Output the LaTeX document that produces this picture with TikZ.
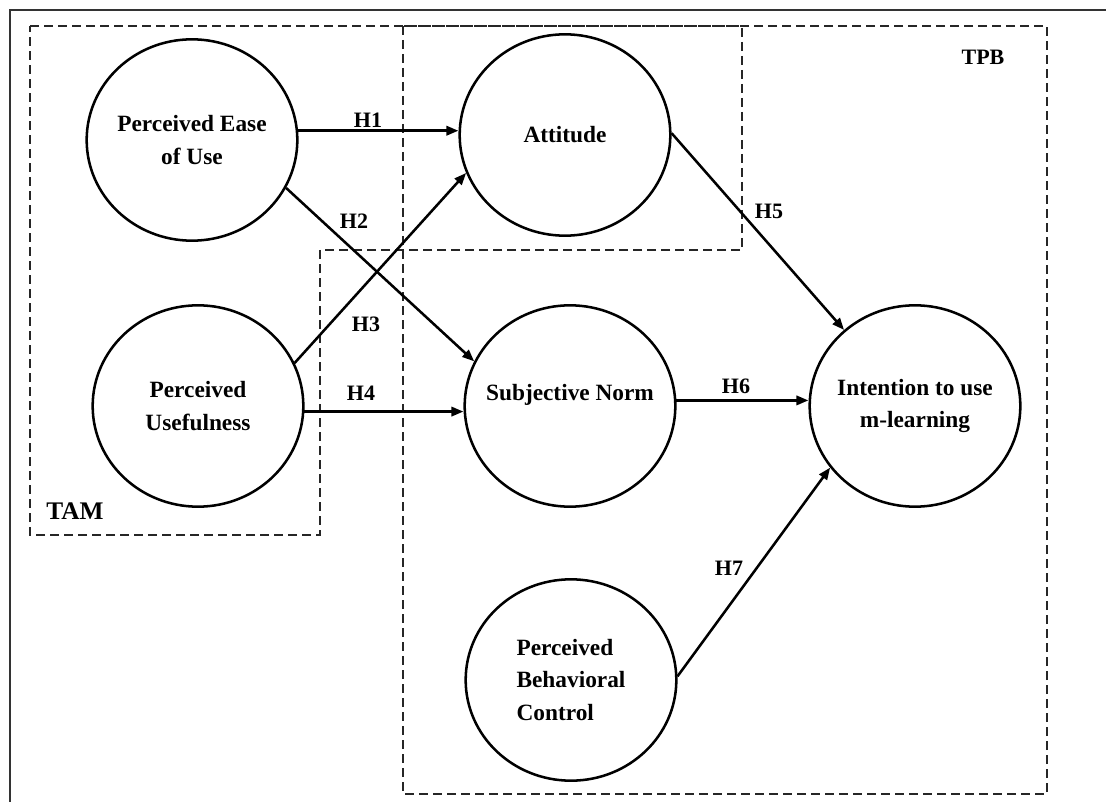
\documentclass[tikz,border=0pt]{standalone}
\usepackage{fontspec}
\setmainfont{Liberation Serif}
\usetikzlibrary{arrows.meta,shapes.geometric}

\begin{document}
\begin{tikzpicture}[x=0.75pt, y=-0.75pt,
      construct/.style={ellipse, draw, line width=1.9pt, minimum width=158pt, minimum height=151pt, inner xsep=-8pt, inner ysep=0pt, align=center, font=\bfseries\fontsize{17.5}{24.5}\selectfont},
      hyp/.style={-{Triangle[length=9pt,width=7pt]}, line width=1.9pt},
      hlabel/.style={inner sep=0pt, font=\bfseries\fontsize{16.5}{20}\selectfont},
      modelbox/.style={dash pattern=on 7pt off 3.5pt, line width=1.1pt, black!85}
    ]
      \useasboundingbox (0,0) rectangle (1106,802);
      % frame
      \draw[line width=1.3pt, black!80] (10,802) -- (10,10) -- (1106,10);

      % model boundaries
      \draw[modelbox] (30,26) -- (742,26) -- (742,250) -- (320,250) -- (320,535) -- (30,535) -- cycle;
      \draw[modelbox] (403,26) rectangle (1047,794);
      \node[hlabel, font=\bfseries\fontsize{19}{22}\selectfont] (tam) at (75,511) {TAM};
      \node[hlabel] (tpb) at (983,57) {TPB};

      % constructs
      \node[construct] (peou) at (192,140) {Perceived Ease\\of Use};
      \node[construct] (pu) at (198,406) {Perceived\\Usefulness};
      \node[construct] (att) at (565,135) {Attitude};
      \node[construct, text depth=20pt] (sn) at (570,406) {Subjective Norm};
      \node[construct, align=left] (pbc) at (571,680) {Perceived\\Behavioral\\Control};
      \node[construct] (int) at (915,406) {Intention to use\\m-learning};

      % hypotheses
      \draw[hyp] (peou.5) -- (peou.5 -| att.west);
      \draw[hyp] (peou.-27) -- (sn.155);
      \draw[hyp] (pu.24) -- (att.201);
      \draw[hyp] (pu.-3) -- (pu.-3 -| sn.west);
      \draw[hyp] (att.1) -- (int.133);
      \draw[hyp] (sn.3) -- (sn.3 -| int.west);
      \draw[hyp] (pbc.2) -- (int.216);

      \node[hlabel] (h1) at (368,120) {H1};
      \node[hlabel] (h2) at (354,221) {H2};
      \node[hlabel] (h3) at (366,324) {H3};
      \node[hlabel] (h4) at (361,393) {H4};
      \node[hlabel] (h5) at (769,211) {H5};
      \node[hlabel] (h6) at (736,386) {H6};
      \node[hlabel] (h7) at (729,568) {H7};
    \end{tikzpicture}
\end{document}
